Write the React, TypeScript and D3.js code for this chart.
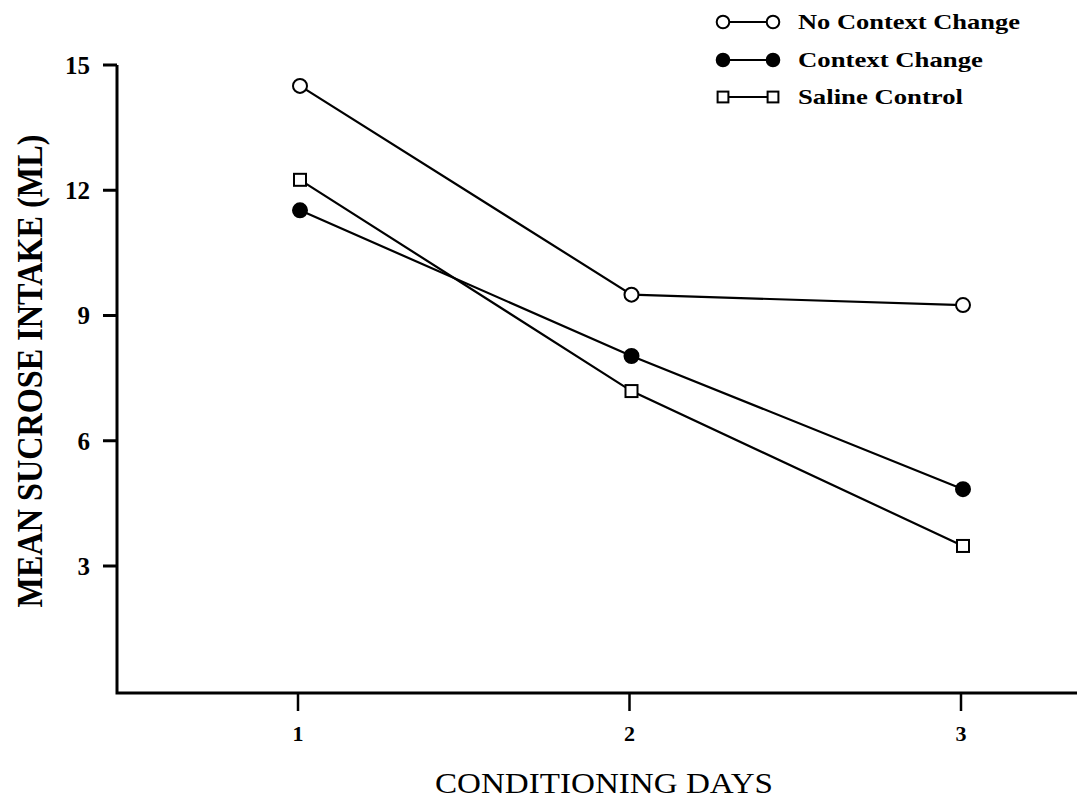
import React from "react";
import * as d3 from "d3";

// Conditioning days on the x axis
const days = [1, 2, 3];

// Mean sucrose intake (ml) per group
const noContextChange = [14.5, 9.5, 9.25];
const contextChange = [11.52, 8.03, 4.84];
const salineControl = [12.25, 7.19, 3.48];

const yTicks = [3, 6, 9, 12, 15];
const xTickLabels = ["1", "2", "3"];

const seriesNames = ["No Context Change", "Context Change", "Saline Control"];
const seriesMarkers = ["openCircle", "filledCircle", "openSquare"];

const W = 1089;
const H = 799;
const FONT = "'Liberation Serif', 'Times New Roman', serif";

export default function App() {
  const x = d3.scaleLinear().domain([1, 3]).range([300, 963]);
  const y = d3.scaleLinear().domain([0, 15]).range([691.25, 65]);

  const axisLeft = 117;
  const axisBottom = 693;
  const axisRight = 1077;

  const series = [noContextChange, contextChange, salineControl];

  const line = d3
    .line<number>()
    .x((_, i) => x(days[i]))
    .y((d) => y(d));

  const marker = (kind: string, cx: number, cy: number, key: string, size = 1) => {
    if (kind === "openSquare") {
      const s = 12 * size;
      return (
        <rect
          key={key}
          x={cx - s / 2}
          y={cy - s / 2}
          width={s}
          height={s}
          fill="#fff"
          stroke="#000"
          strokeWidth={2}
        />
      );
    }
    return (
      <circle
        key={key}
        cx={cx}
        cy={cy}
        r={7 * size}
        fill={kind === "filledCircle" ? "#000" : "#fff"}
        stroke="#000"
        strokeWidth={2}
      />
    );
  };

  const legendY = [22, 60, 97];
  const legendTextLen = [222, 185, 165];

  return (
    <svg
      width={W}
      height={H}
      style={{ position: "absolute", left: 0, top: 0, background: "#fff" }}
      fontFamily={FONT}
    >
      <rect x={0} y={0} width={W} height={H} fill="#fff" />

      {/* axes */}
      <path
        d={`M${axisLeft},${y(15)} V${axisBottom} H${axisRight}`}
        fill="none"
        stroke="#000"
        strokeWidth={3}
      />

      {/* y ticks */}
      {yTicks.map((t) => (
        <g key={`yt${t}`}>
          <line x1={103} x2={axisLeft} y1={y(t)} y2={y(t)} stroke="#000" strokeWidth={3} />
          <text
            x={90}
            y={y(t)}
            dy="0.35em"
            textAnchor="end"
            fontSize={25}
            fontWeight="bold"
          >
            {t}
          </text>
        </g>
      ))}

      {/* x ticks */}
      {days.map((d, i) => (
        <g key={`xt${d}`}>
          <line
            x1={x(d) - 2}
            x2={x(d) - 2}
            y1={axisBottom}
            y2={axisBottom + 18}
            stroke="#000"
            strokeWidth={2.5}
          />
          <text x={x(d) - 2} y={741} textAnchor="middle" fontSize={22} fontWeight="bold">
            {xTickLabels[i]}
          </text>
        </g>
      ))}

      {/* axis titles */}
      <text
        x={604}
        y={793}
        textAnchor="middle"
        fontSize={30}
        textLength={338}
        lengthAdjust="spacingAndGlyphs"
      >
        CONDITIONING DAYS
      </text>
      <text
        transform="translate(42,371) rotate(-90)"
        textAnchor="middle"
        fontSize={35}
        fontWeight="bold"
        textLength={473}
        lengthAdjust="spacingAndGlyphs"
      >
        MEAN SUCROSE INTAKE (ML)
      </text>

      {/* series lines */}
      {series.map((s, i) => (
        <path key={`l${i}`} d={line(s) ?? ""} fill="none" stroke="#000" strokeWidth={2.2} />
      ))}
      {series.map((s, i) =>
        s.map((v, j) => marker(seriesMarkers[i], x(days[j]), y(v), `m${i}-${j}`))
      )}

      {/* legend */}
      {seriesNames.map((name, i) => (
        <g key={`lg${i}`}>
          <line x1={723} x2={773} y1={legendY[i]} y2={legendY[i]} stroke="#000" strokeWidth={2.2} />
          {marker(seriesMarkers[i], 723, legendY[i], `lga${i}`, 0.9)}
          {marker(seriesMarkers[i], 773, legendY[i], `lgb${i}`, 0.9)}
          <text
            x={798}
            y={legendY[i] + 7}
            fontSize={22}
            fontWeight="bold"
            textLength={legendTextLen[i]}
            lengthAdjust="spacingAndGlyphs"
          >
            {name}
          </text>
        </g>
      ))}
    </svg>
  );
}
